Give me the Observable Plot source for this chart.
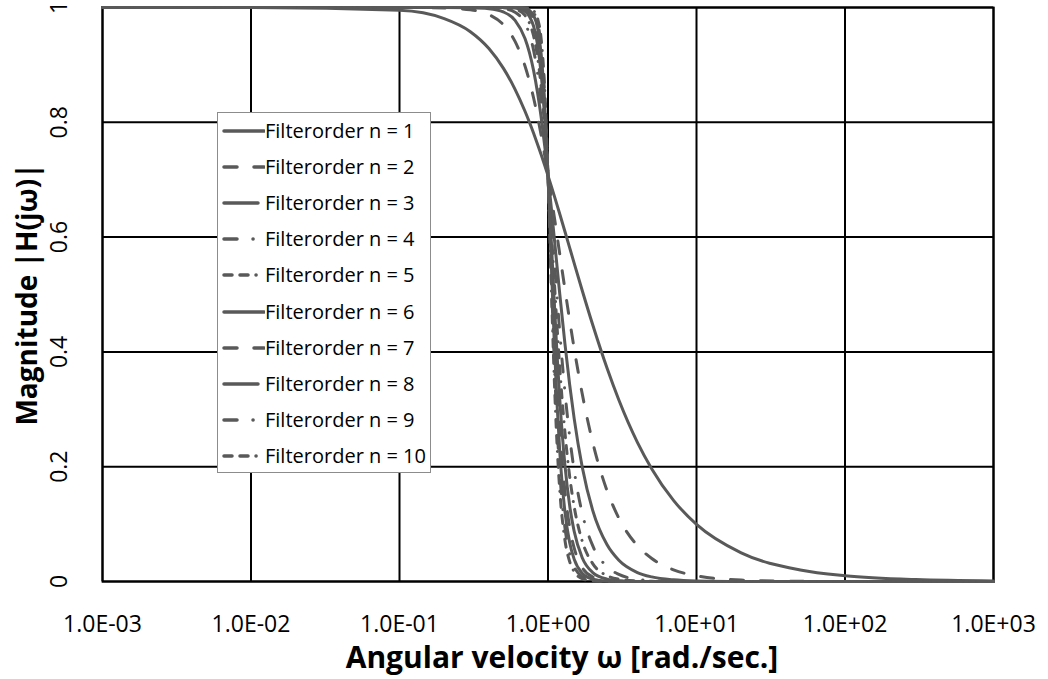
<!DOCTYPE html>
<html><head><meta charset="utf-8">
<script src="https://cdn.jsdelivr.net/npm/d3@7"></script>
<script src="https://cdn.jsdelivr.net/npm/@observablehq/plot@0.6"></script>
<style>
body{margin:0;background:#fff;}
#wrap{position:relative;width:1048px;height:679px;}
#legend{position:absolute;left:217px;top:112px;width:212px;height:359px;background:#fff;border:1px solid #8c8c8c;font-family:"Open Sans",sans-serif;font-size:20px;color:#000;}
.row{position:absolute;left:0;height:36px;width:212px;}
.row svg{position:absolute;left:0;top:0;}
.row span{position:absolute;left:47px;top:0;line-height:36px;white-space:nowrap;}
</style></head><body><div id="wrap"></div>
<script>
// angular velocity sample points (rad/sec)
const omega = [0.001, 0.01, 0.1, 0.2, 0.3, 0.4, 0.5, 0.6, 0.7, 0.75, 0.8, 0.85, 0.9, 0.95, 1, 1.05, 1.1, 1.15, 1.2, 1.3, 1.4, 1.5, 1.7, 2, 2.5, 3, 4, 5, 7, 10, 20, 50, 100, 300, 1000];
// magnitude |H(jw)| per filter order
const n1 = [1.0000, 1.0000, 0.9950, 0.9806, 0.9578, 0.9285, 0.8944, 0.8575, 0.8192, 0.8000, 0.7809, 0.7619, 0.7433, 0.7250, 0.7071, 0.6897, 0.6727, 0.6562, 0.6402, 0.6097, 0.5812, 0.5547, 0.5070, 0.4472, 0.3714, 0.3162, 0.2425, 0.1961, 0.1414, 0.0995, 0.0499, 0.0200, 0.0100, 0.0033, 0.0010];
const n2 = [1, 1, 1.0000, 0.9992, 0.9960, 0.9875, 0.9701, 0.9409, 0.8980, 0.8716, 0.8423, 0.8106, 0.7771, 0.7424, 0.7071, 0.6718, 0.6370, 0.6031, 0.5704, 0.5092, 0.4545, 0.4061, 0.3270, 0.2425, 0.1580, 0.1104, 0.0624, 0.0400, 0.0204, 0.0100, 0.0025, 0.0004, 0.0001, 0, 0];
const n3 = [1, 1, 1, 1.0000, 0.9996, 0.9980, 0.9923, 0.9775, 0.9459, 0.9214, 0.8901, 0.8521, 0.8081, 0.7592, 0.7071, 0.6537, 0.6007, 0.5494, 0.5009, 0.4143, 0.3424, 0.2841, 0.1995, 0.1240, 0.0639, 0.0370, 0.0156, 0.0080, 0.0029, 0.0010, 0.0001, 0, 0, 0, 0];
const n4 = [1, 1, 1, 1, 1.0000, 0.9997, 0.9981, 0.9917, 0.9724, 0.9534, 0.9254, 0.8865, 0.8361, 0.7753, 0.7071, 0.6353, 0.5640, 0.4964, 0.4344, 0.3305, 0.2519, 0.1938, 0.1189, 0.0624, 0.0256, 0.0123, 0.0039, 0.0016, 0.0004, 0.0001, 0, 0, 0, 0, 0];
const n5 = [1, 1, 1, 1, 1, 0.9999, 0.9995, 0.9970, 0.9862, 0.9730, 0.9503, 0.9141, 0.8611, 0.7909, 0.7071, 0.6168, 0.5275, 0.4452, 0.3729, 0.2601, 0.1828, 0.1306, 0.0703, 0.0312, 0.0102, 0.0041, 0.0010, 0.0003, 0, 0, 0, 0, 0, 0, 0];
const n6 = [1, 1, 1, 1, 1, 1, 0.9999, 0.9989, 0.9932, 0.9845, 0.9673, 0.9357, 0.8830, 0.8057, 0.7071, 0.5981, 0.4916, 0.3968, 0.3176, 0.2029, 0.1317, 0.0875, 0.0414, 0.0156, 0.0041, 0.0014, 0.0002, 0.0001, 0, 0, 0, 0, 0, 0, 0];
const n7 = [1, 1, 1, 1, 1, 1, 1.0000, 0.9996, 0.9966, 0.9912, 0.9787, 0.9523, 0.9021, 0.8199, 0.7071, 0.5793, 0.4566, 0.3519, 0.2688, 0.1574, 0.0944, 0.0584, 0.0244, 0.0078, 0.0016, 0.0005, 0.0001, 0, 0, 0, 0, 0, 0, 0, 0];
const n8 = [1, 1, 1, 1, 1, 1, 1, 0.9999, 0.9983, 0.9950, 0.9862, 0.9648, 0.9185, 0.8333, 0.7071, 0.5605, 0.4228, 0.3107, 0.2265, 0.1217, 0.0676, 0.0390, 0.0143, 0.0039, 0.0007, 0.0002, 0, 0, 0, 0, 0, 0, 0, 0, 0];
const n9 = [1, 1, 1, 1, 1, 1, 1, 0.9999, 0.9992, 0.9972, 0.9911, 0.9742, 0.9325, 0.8460, 0.7071, 0.5418, 0.3904, 0.2734, 0.1903, 0.0939, 0.0483, 0.0260, 0.0084, 0.0020, 0.0003, 0.0001, 0, 0, 0, 0, 0, 0, 0, 0, 0];
const n10 = [1, 1, 1, 1, 1, 1, 1, 1.0000, 0.9996, 0.9984, 0.9943, 0.9812, 0.9443, 0.8580, 0.7071, 0.5232, 0.3597, 0.2400, 0.1594, 0.0723, 0.0346, 0.0173, 0.0050, 0.0010, 0.0001, 0, 0, 0, 0, 0, 0, 0, 0, 0, 0];
const seriesNames = ["Filterorder n = 1", "Filterorder n = 2", "Filterorder n = 3", "Filterorder n = 4", "Filterorder n = 5", "Filterorder n = 6", "Filterorder n = 7", "Filterorder n = 8", "Filterorder n = 9", "Filterorder n = 10"];
const xTicks = [1e-3, 1e-2, 1e-1, 1e0, 1e1, 1e2, 1e3];
const yTicks = [0, 0.2, 0.4, 0.6, 0.8, 1];
const xTitle = "Angular velocity ω [rad./sec.]";
const yTitle = "Magnitude |H(jω)|";

const series = [n1, n2, n3, n4, n5, n6, n7, n8, n9, n10];
const dashes = [null, "13,17", null, "13,16,0.1,16", "8,8,8,8,0.1,8", null, "13,17", null, "13,16,0.1,16", "8,8,8,8,0.1,8"];
const sampleLen = [40, 40, 34, 40, 40, 40, 40, 34, 40, 40];
const lineColor = "#595959";

const fmtX = d => { const e = Math.round(Math.log10(d)); return "1.0E" + (e < 0 ? "-" : "+") + String(Math.abs(e)).padStart(2, "0"); };
const fmtY = d => String(+d.toFixed(1));

const lineMarks = series.map((vals, i) => Plot.line(
  omega.map((w, j) => ({w, m: vals[j]})),
  {x: "w", y: "m", stroke: lineColor, strokeWidth: 3, strokeDasharray: dashes[i] || undefined,
   strokeLinecap: "round", strokeLinejoin: "round", curve: "monotone-x"}
));

const chart = Plot.plot({
  width: 1048, height: 679,
  marginLeft: 102, marginRight: 55, marginTop: 7, marginBottom: 98,
  x: {type: "log", domain: [1e-3, 1e3]},
  y: {domain: [0, 1]},
  style: {fontFamily: "'Open Sans', sans-serif", background: "#fff", color: "#000", overflow: "visible"},
  marks: [
    Plot.ruleX(xTicks, {x: d => d, stroke: "#000", strokeWidth: 2}),
    Plot.ruleY(yTicks, {y: d => d, stroke: "#000", strokeWidth: 2}),
    Plot.frame({stroke: "#000", strokeWidth: 2}),
    ...lineMarks,
    Plot.axisX({ticks: xTicks, tickSize: 0, tickPadding: 34, tickFormat: fmtX, fontSize: 23, label: null}),
    Plot.axisY({ticks: [], label: null}),
    Plot.text(yTicks, {y: d => d, text: fmtY, frameAnchor: "left", dx: -43, rotate: -90, fontSize: 23, textAnchor: "middle", lineAnchor: "middle"}),
    Plot.text([xTitle], {text: d => d, frameAnchor: "bottom", dx: 14, dy: 77, fontSize: 30, fontWeight: "bold", lineAnchor: "middle"}),
    Plot.text([yTitle], {text: d => d, frameAnchor: "left", dx: -74, rotate: -90, fontSize: 28, fontWeight: "bold", textAnchor: "middle", lineAnchor: "middle"})
  ]
});
const wrap = document.getElementById("wrap");
wrap.appendChild(chart);

// legend
const legend = document.createElement("div");
legend.id = "legend";
seriesNames.forEach((name, i) => {
  const row = document.createElement("div");
  row.className = "row";
  row.style.top = (i * 36.1) + "px";
  const ns = "http://www.w3.org/2000/svg";
  const svg = document.createElementNS(ns, "svg");
  svg.setAttribute("width", 47); svg.setAttribute("height", 36);
  const ln = document.createElementNS(ns, "line");
  ln.setAttribute("x1", 6); ln.setAttribute("x2", 6 + sampleLen[i]);
  ln.setAttribute("y1", 18); ln.setAttribute("y2", 18);
  ln.setAttribute("stroke", lineColor); ln.setAttribute("stroke-width", 3.5);
  ln.setAttribute("stroke-linecap", "round");
  if (dashes[i]) ln.setAttribute("stroke-dasharray", dashes[i]);
  svg.appendChild(ln);
  const span = document.createElement("span");
  span.textContent = name;
  row.appendChild(svg); row.appendChild(span);
  legend.appendChild(row);
});
wrap.appendChild(legend);
</script>
</body></html>
